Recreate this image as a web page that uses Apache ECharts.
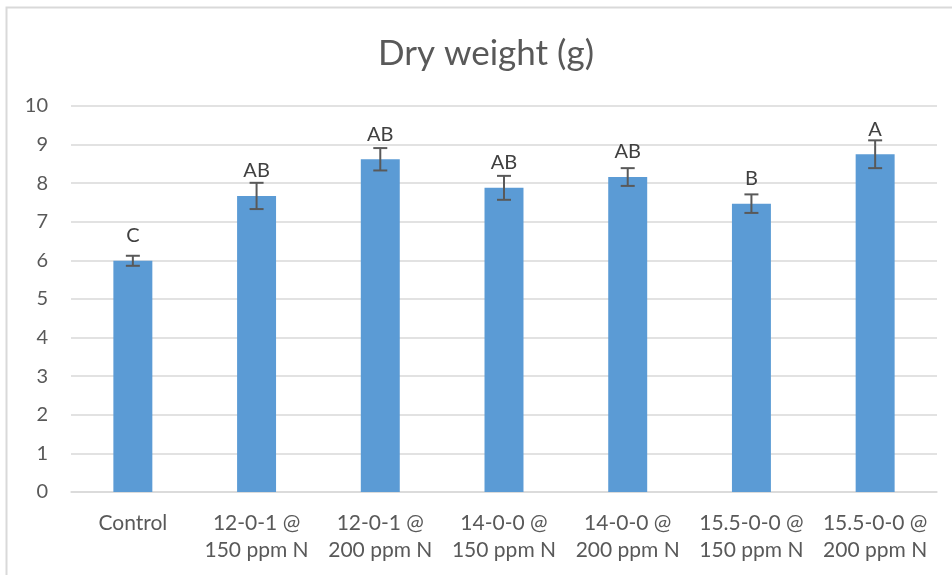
<!DOCTYPE html>
<html><head><meta charset="utf-8">
<script src="https://cdn.jsdelivr.net/npm/echarts@6/dist/echarts.min.js"></script>
<style>html,body{margin:0;padding:0;background:#fff}#c{width:952px;height:575px}</style>
</head><body><div id="c"></div>
<script>
const categories = ['Control','12-0-1 @\n150 ppm N','12-0-1 @\n200 ppm N','14-0-0 @\n150 ppm N','14-0-0 @\n200 ppm N','15.5-0-0 @\n150 ppm N','15.5-0-0 @\n200 ppm N'];
const dryWeight = [5.99, 7.67, 8.62, 7.88, 8.16, 7.47, 8.75];
const stdErr = [0.13, 0.34, 0.29, 0.31, 0.23, 0.24, 0.36];
const letters = ['C','AB','AB','AB','AB','B','A'];
const FONT = 'Lato';
const chart = echarts.init(document.getElementById('c'));
chart.setOption({
  animation:false,
  textStyle:{fontFamily:FONT},
  title:{text:'Dry weight (g)',left:373,top:31,textStyle:{fontFamily:FONT,fontSize:35,fontWeight:'normal',color:'#595959'}},
  graphic:[{type:'rect',shape:{x:6.5,y:7.5,width:1000,height:700},style:{fill:'none',stroke:'#d9d9d9',lineWidth:2},silent:true}],
  grid:{left:71,right:15,top:106,bottom:83,containLabel:false},
  xAxis:{type:'category',data:categories,axisTick:{show:false},axisLine:{lineStyle:{color:'#d9d9d9',width:1.5}},
    axisLabel:{color:'#595959',fontSize:21,margin:18,lineHeight:27,interval:0}},
  yAxis:{type:'value',min:0,max:10,interval:1,axisLine:{show:false},axisTick:{show:false},
    splitLine:{lineStyle:{color:'#d9d9d9',width:1.5}},axisLabel:{color:'#595959',fontSize:20,margin:23}},
  series:[
    {type:'bar',data:dryWeight,barWidth:'31.5%',itemStyle:{color:'#5b9bd5'}},
    {type:'custom',data:dryWeight.map((v,i)=>[i,v,stdErr[i]]),z:10,
     renderItem:function(params,api){
       const i=api.value(0),v=api.value(1),e=api.value(2);
       const top=api.coord([i,v+e]),bot=api.coord([i,v-e]),bar=api.coord([i,v]);
       const x=top[0],hw=7;
       const st={stroke:'#595959',lineWidth:2};
       return {type:'group',children:[
         {type:'line',shape:{x1:x,y1:top[1],x2:x,y2:bot[1]},style:st},
         {type:'line',shape:{x1:x-hw,y1:top[1],x2:x+hw,y2:top[1]},style:st},
         {type:'line',shape:{x1:x-hw,y1:bot[1],x2:x+hw,y2:bot[1]},style:st},
         {type:'text',x:x,y:bar[1]-15,z2:20,style:{text:letters[i],fill:'#404040',font:'20px '+FONT,align:'center',verticalAlign:'bottom'}}
       ]};
     }}
  ]
});
</script></body></html>
